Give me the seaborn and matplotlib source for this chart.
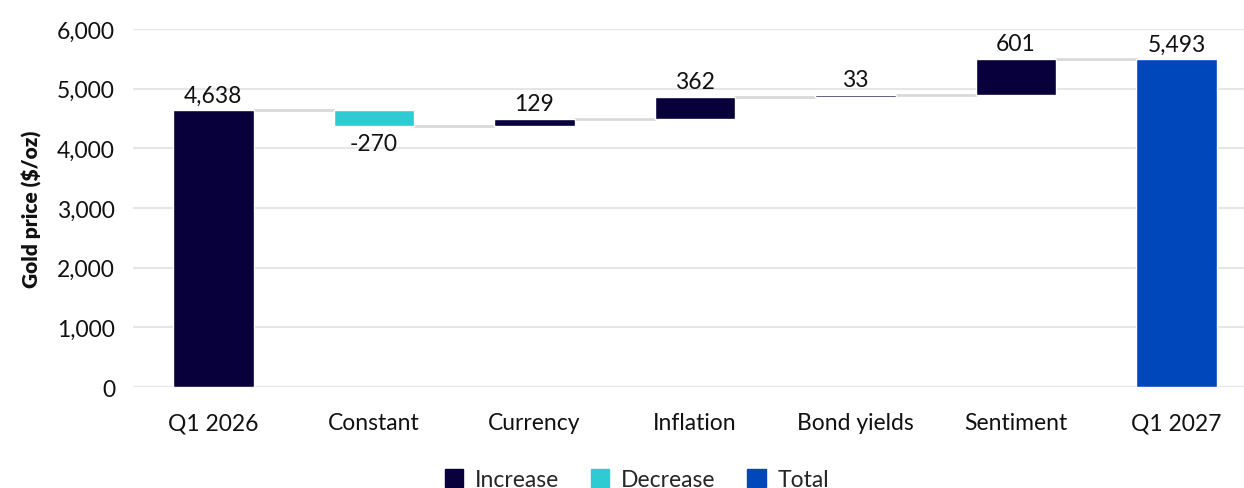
import numpy as np
import pandas as pd
import matplotlib.pyplot as plt
import seaborn as sns
from matplotlib.patches import Patch
from matplotlib.ticker import FuncFormatter

# dados
etapas = ['Q1 2026', 'Constant', 'Currency', 'Inflation', 'Bond yields', 'Sentiment', 'Q1 2027']
valores = [4638, -270, 129, 362, 33, 601, 5493]
tipos = ['Total', 'Decrease', 'Increase', 'Increase', 'Increase', 'Increase', 'Total']
# primeira barra usa a cor de "Increase" no original
cores_barra = ['Increase', 'Decrease', 'Increase', 'Increase', 'Increase', 'Increase', 'Total']

cores = {'Increase': '#07003b', 'Decrease': '#2ecbd2', 'Total': '#0047bb'}

# calcula base e altura de cada barra (cascata)
bases, alturas, acumulado = [], [], []
total = 0
for v, t in zip(valores, tipos):
    if t == 'Total':
        bases.append(0)
        alturas.append(v)
        total = v
    else:
        novo = total + v
        bases.append(min(total, novo))
        alturas.append(abs(v))
        total = novo
    acumulado.append(total)

df = pd.DataFrame({'etapa': etapas, 'altura': alturas, 'base': bases,
                   'valor': valores, 'cor': cores_barra, 'acum': acumulado})

sns.set_theme(style='white')
plt.rcParams['font.family'] = ['Lato', 'DejaVu Sans']

fs = 16.5
fig = plt.figure(figsize=(12.44, 4.89), dpi=100)
ax = fig.add_axes([0.107, 0.2065, 0.893, 0.7322])

sns.barplot(data=df, x='etapa', y='altura', hue='etapa', order=etapas,
            palette={e: cores[c] for e, c in zip(etapas, cores_barra)},
            width=0.5, legend=False, saturation=1, ax=ax, zorder=3)

# desloca as barras para a base correta
for cont, b in zip(ax.containers, bases):
    for barra in cont:
        barra.set_y(b)

# linhas de conexão
meia = 0.25
for i in range(len(etapas) - 1):
    ax.plot([i + meia, i + 1 - meia], [acumulado[i], acumulado[i]],
            color='#d9d9d9', lw=2, zorder=2)

# rótulos
for i, row in df.iterrows():
    txt = f"{row['valor']:,}"
    if row['valor'] < 0:
        ax.text(i, row['base'] - 110, txt, ha='center', va='top', fontsize=fs, color='#111111')
    else:
        ax.text(i, row['base'] + row['altura'] + 80, txt, ha='center', va='bottom', fontsize=fs, color='#111111')

ax.set_ylim(0, 6000)
ax.set_xlim(-0.5, 6.42)
ax.set_yticks(np.arange(0, 6001, 1000))
ax.yaxis.set_major_formatter(FuncFormatter(lambda x, p: f"{int(x):,}"))
ax.grid(axis='y', color='#e6e6e6', lw=1.5, zorder=0)
ax.set_axisbelow(True)
for s in ax.spines.values():
    s.set_visible(False)
ax.tick_params(axis='y', length=0, pad=13, labelsize=fs, labelcolor='#111111')
ax.tick_params(axis='x', length=0, pad=18, labelsize=fs, labelcolor='#111111')
ax.set_xlabel('')
ax.set_ylabel('Gold price ($/oz)', fontsize=15, fontweight='heavy', labelpad=11, color='#111111')

handles = [Patch(color=cores[k], label=k) for k in ['Increase', 'Decrease', 'Total']]
fig.legend(handles=handles, loc='center', bbox_to_anchor=(0.512, 0.017), ncol=3,
           frameon=False, fontsize=fs, handlelength=0.8, handleheight=0.8,
           handletextpad=0.5, columnspacing=1.4)

fig.savefig('out.png', dpi=100)
